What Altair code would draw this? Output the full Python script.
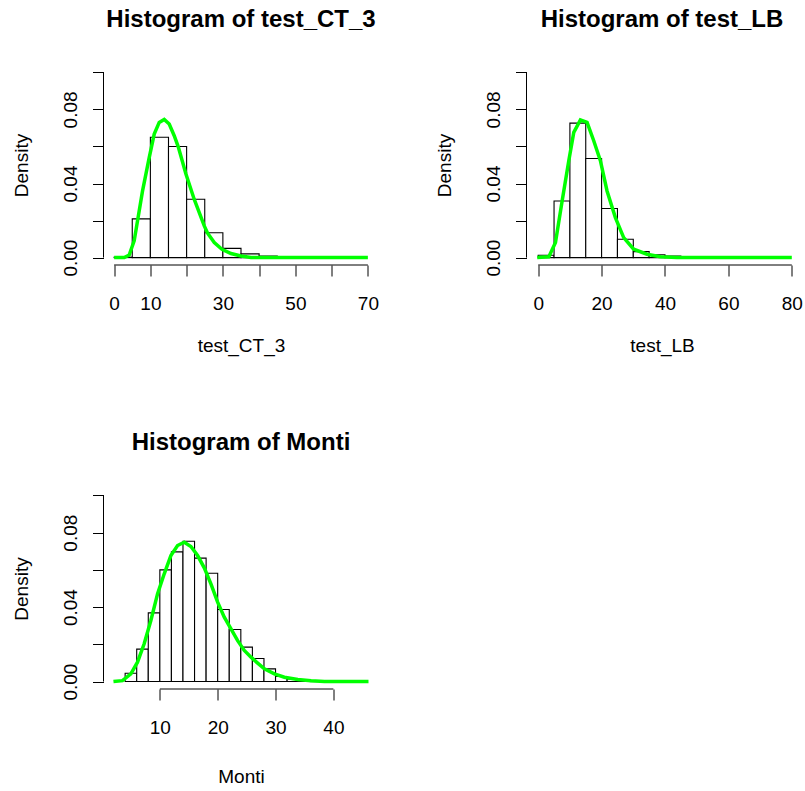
import altair as alt
import pandas as pd

FONT = "Liberation Sans"

# ---------------- data ----------------
# Panel 1: test_CT_3
ct3_breaks = [0, 5, 10, 15, 20, 25, 30, 35, 40, 45]
ct3_density = [0.0002, 0.0209, 0.0650, 0.0600, 0.0315, 0.0134, 0.0050, 0.0020, 0.0008]
ct3_curve_x = [0.0, 2.8, 4.15, 5.53, 6.45, 7.84, 9.68, 11.06, 12.44, 13.82, 15.2, 16.58,
               17.69, 19.81, 22.11, 24.87, 25.79, 27.63, 29.75, 32.24, 35.0, 37.76, 41.0, 70.0]
ct3_curve_y = [0.0, 0.0, 0.0014, 0.0090, 0.0198, 0.0360, 0.0540, 0.0667, 0.0730, 0.0746, 0.0721, 0.0658,
               0.0598, 0.0451, 0.0314, 0.0171, 0.0132, 0.0081, 0.0045, 0.0022, 0.0009, 0.0, 0.0, 0.0]
ct3_ticks = [0, 10, 20, 30, 40, 50, 60, 70]
ct3_labels = [0, 10, 30, 50, 70]

# Panel 2: test_LB
lb_breaks = [0, 5, 10, 15, 20, 25, 30, 35, 40, 45]
lb_density = [0.0013, 0.0306, 0.0726, 0.0535, 0.0265, 0.0099, 0.0032, 0.0015, 0.0008]
lb_curve_x = [-0.3, 3.35, 5.45, 7.55, 9.65, 11.22, 13.32, 15.42, 17.52, 19.62, 21.72, 24.35,
              26.97, 30.12, 34.32, 38.52, 43.77, 80.0]
lb_curve_y = [0.0, 0.0004, 0.0081, 0.0306, 0.0523, 0.0676, 0.0743, 0.0730, 0.0631, 0.0523, 0.0360, 0.0216,
              0.0108, 0.0045, 0.0018, 0.0005, 0.0, 0.0]
lb_ticks = [0, 20, 40, 60, 80]
lb_labels = [0, 20, 40, 60, 80]

# Panel 3: Monti
monti_breaks = [4, 6, 8, 10, 12, 14, 16, 18, 20, 22, 24, 26, 28, 30, 32, 34, 36, 38]
monti_density = [0.0045, 0.0174, 0.0369, 0.0600, 0.0697, 0.0754, 0.0663, 0.0582, 0.0387,
                 0.0280, 0.0185, 0.0124, 0.0068, 0.0027, 0.0014, 0.0009, 0.0005]
monti_curve_x = [1.98, 3.54, 4.99, 6.14, 7.29, 8.45, 9.6, 10.76, 11.91, 13.06, 14.22, 15.37, 16.53,
                 17.68, 18.83, 19.99, 21.14, 22.3, 23.45, 24.6, 25.76, 26.91, 28.07, 29.8, 31.53,
                 33.84, 36.15, 38.45, 46.07]
monti_curve_y = [0.0, 0.0005, 0.0041, 0.0104, 0.0203, 0.0328, 0.0471, 0.0579, 0.0677, 0.0731, 0.0749,
                 0.0726, 0.0677, 0.0611, 0.0525, 0.0427, 0.0346, 0.0283, 0.0220, 0.0167, 0.0131,
                 0.0099, 0.0068, 0.0041, 0.0023, 0.0011, 0.0004, 0.0, 0.0]
monti_ticks = [10, 20, 30, 40]
monti_labels = [10, 20, 30, 40]

y_ticks = [0, 0.02, 0.04, 0.06, 0.08, 0.10]
y_labels = [0, 4, 8]  # in hundredths


def panel(title, xlabel, breaks, dens, cx, cy, xdomain, xticks, xlabels,
          width, height, xtitle_y):
    bars_df = pd.DataFrame({"x0": breaks[:-1], "x1": breaks[1:], "d": dens})
    curve_df = pd.DataFrame({"x0": cx, "d": cy})
    xspan_df = pd.DataFrame({"x0": [xticks[0]], "x1": [xticks[-1]], "d": [-0.004]})
    yspan_df = pd.DataFrame({"d": [y_ticks[0]], "d2": [y_ticks[-1]]})

    xscale = alt.Scale(domain=xdomain, nice=False, zero=False)
    yscale = alt.Scale(domain=[-0.004, 0.104], nice=False, zero=False)

    x_expr = "indexof(%s, round(datum.value)) >= 0 ? format(datum.value, 'd') : ''" % (
        "[" + ",".join(str(v) for v in xlabels) + "]")
    y_expr = "indexof(%s, round(datum.value*100)) >= 0 ? format(datum.value, '.2f') : ''" % (
        "[" + ",".join(str(v) for v in y_labels) + "]")

    xaxis = alt.Axis(
        values=xticks, tickCount=50, labelExpr=x_expr, domain=False, grid=False,
        ticks=True, tickSize=11, tickColor="black", tickWidth=1,
        labelFont=FONT, labelFontSize=19, labelColor="black",
        labelBaseline="alphabetic", labelPadding=33, labelOverlap=False,
        labelFlush=False, labelAlign="center", labelBound=False,
        title=xlabel, titleFont=FONT, titleFontSize=19, titleFontWeight="normal",
        titleColor="black", titleX=width / 2, titleY=xtitle_y,
        titleAlign="center", titleBaseline="alphabetic", titleAngle=0,
    )
    yaxis = alt.Axis(
        values=y_ticks, tickCount=50, labelExpr=y_expr,
        domain=False, grid=False, ticks=True, tickSize=11, tickColor="black", tickWidth=1,
        labelFont=FONT, labelFontSize=19, labelColor="black",
        labelAngle=270, labelAlign="center", labelBaseline="alphabetic",
        labelPadding=16, labelOverlap=False, labelFlush=False, labelBound=False,
        title="Density", titleFont=FONT, titleFontSize=19, titleFontWeight="normal",
        titleColor="black", titleAngle=270, titleX=-76, titleY=height / 2,
        titleAlign="center", titleBaseline="alphabetic",
    )

    bars = alt.Chart(bars_df).mark_rect(fill="white", stroke="black", strokeWidth=1.1).encode(
        x=alt.X("x0:Q", scale=xscale, axis=xaxis, title=xlabel),
        x2="x1:Q",
        y=alt.Y("d:Q", scale=yscale, axis=yaxis, title="Density"),
        y2=alt.datum(0),
    )
    curve = alt.Chart(curve_df).mark_line(color="#00FF00", strokeWidth=3.5).encode(
        x=alt.X("x0:Q", title=xlabel),
        y=alt.Y("d:Q", title="Density"),
    )
    xline = alt.Chart(xspan_df).mark_rule(color="black", strokeWidth=1).encode(
        x=alt.X("x0:Q", title=xlabel), x2="x1:Q",
        y=alt.Y("d:Q", title="Density")
    )
    yline = alt.Chart(yspan_df).mark_rule(color="black", strokeWidth=1).encode(
        x=alt.value(0), y=alt.Y("d:Q", title="Density"), y2="d2:Q"
    )
    return alt.layer(bars, curve, xline, yline).properties(
        width=width, height=height,
        title=alt.TitleParams(
            text=title, font=FONT, fontSize=24, fontWeight="bold", color="black",
            anchor="middle", frame="group", baseline="alphabetic", offset=14,
        ),
    )


p1 = panel("Histogram of test_CT_3", "test_CT_3", ct3_breaks, ct3_density,
           ct3_curve_x, ct3_curve_y, [-2.93, 72.93], ct3_ticks, ct3_labels,
           275, 200, 86)
p2 = panel("Histogram of test_LB", "test_LB", lb_breaks, lb_density,
           lb_curve_x, lb_curve_y, [-3.69, 81.8], lb_ticks, lb_labels,
           271, 200, 86)
p3 = panel("Histogram of Monti", "Monti", monti_breaks, monti_density,
           monti_curve_x, monti_curve_y, [0.26, 47.8], monti_ticks, monti_labels,
           275, 201, 93)

chart = alt.concat(
    p1, p2, p3, columns=2,
    spacing=alt.RowColnumber(row=223, column=148),
    bounds="flush",
).properties(
    padding={"left": 12.5, "top": 8, "right": 0, "bottom": 0},
    background="white",
).configure_view(stroke=None).configure_axis(labelOverlap=False)

chart.save("out.html", embed_options={"renderer": "svg", "actions": False})
